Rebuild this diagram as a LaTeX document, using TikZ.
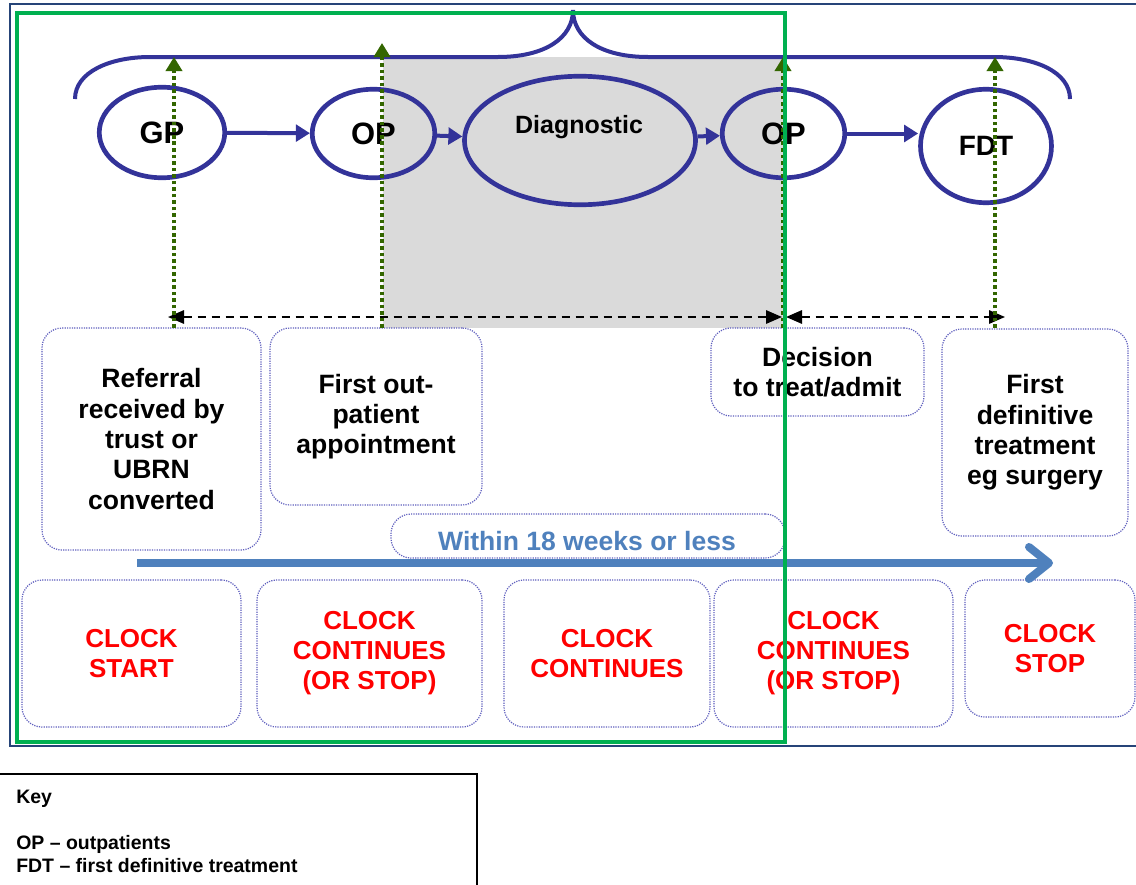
\documentclass[tikz,border=0pt]{standalone}
\usepackage{fontspec}
\setmainfont{Liberation Sans}
\usetikzlibrary{arrows.meta,shapes.geometric}

\definecolor{framenavy}{RGB}{38,68,120}
\definecolor{framegreen}{RGB}{0,176,80}
\definecolor{stagecol}{RGB}{51,51,153}
\definecolor{periodgray}{RGB}{218,218,218}
\definecolor{markgreen}{RGB}{51,102,0}
\definecolor{boxline}{RGB}{95,95,190}
\definecolor{weekblue}{RGB}{79,129,189}
\definecolor{clockred}{RGB}{255,0,0}

\begin{document}
\begin{tikzpicture}[x=0.75pt,y=-0.75pt,
  stage/.style={ellipse, draw=stagecol, line width=3.5pt, inner sep=0pt,
    font=\fontsize{23.2}{26}\selectfont\bfseries},
  flow/.style={stagecol, line width=3pt, -{Triangle[length=10.5pt,width=12.5pt]}},
  note/.style={draw=boxline, line width=0.9pt, dash pattern=on 0.9pt off 0.9pt,
    rounded corners=15pt, inner sep=0pt, align=center,
    font=\fontsize{19.9}{22.7}\selectfont\bfseries},
  clock/.style={note, text=clockred, font=\fontsize{19.5}{22.5}\selectfont\bfseries},
  span/.style={black, line width=1.5pt, dash pattern=on 6.5pt off 4pt,
    {Triangle[length=12pt,width=10pt]}-{Triangle[length=12pt,width=10pt]}},
  milestone/.style={markgreen, line width=2.7pt, dash pattern=on 2.7pt off 2.2pt,
    -{Triangle[length=10.5pt,width=12pt]}},
  keytext/.style={anchor=base west, inner sep=0pt, font=\fontsize{14.6}{17}\selectfont\bfseries}]

\useasboundingbox (0,0) rectangle (1136,885);
\clip (0,0) rectangle (1136,885);
\fill[white] (0,0) rectangle (1136,885);

% shaded diagnostic period
\fill[periodgray] (383,57) rectangle (783,328);

% outer frame
\draw[framenavy, line width=1.5pt] (10,4) rectangle (1150,746);

% brace over the pathway
\draw[stagecol, line width=3pt]
  (75,99) .. controls (75,72) and (110,57) .. (150,57) -- (498,57)
  .. controls (545,57) and (573,38) .. (573,10)
  .. controls (573,38) and (601,57) .. (648,57) -- (994,57)
  .. controls (1035,57) and (1070,72) .. (1070,99);

% pathway stages
\node[stage, minimum width=94.1pt, minimum height=67.9pt] (gp) at (162,132.5) {GP};
\node[stage, minimum width=91.9pt, minimum height=66.4pt] (op1) at (373.5,133.5) {OP};
\node[stage, minimum width=173.25pt, minimum height=96.4pt] (diag) at (580,140.5) {};
\node[anchor=base, inner sep=0pt, font=\fontsize{18.75}{22}\selectfont\bfseries] (diaglabel) at (579,133) {Diagnostic};
\node[stage, minimum width=91.9pt, minimum height=66.4pt] (op2) at (783.5,133.5) {OP};
\node[stage, minimum width=98.25pt, minimum height=85.1pt, font=\fontsize{21}{24}\selectfont\bfseries] (fdt) at (986,146) {FDT};

\draw[flow] (gp) -- (op1);
\draw[flow] (op1) -- (diag);
\draw[flow] (diag) -- (op2);
\draw[flow] (op2.east) -- (op2.east -| fdt.west);

% milestone boxes
\node[note, minimum width=164.25pt, minimum height=166.5pt] (referral) at (151.5,439)
  {Referral\\received by\\trust or\\UBRN\\converted};
\node[note, minimum width=159pt, minimum height=132.75pt] (firstop) at (376,416.5)
  {First out-\\patient\\appointment};
\node[note, minimum width=159.75pt, minimum height=66pt] (decision) at (817.5,372)
  {Decision\\to treat/admit};
\node[note, minimum width=139.5pt, minimum height=155.25pt] (treat) at (1035,432.5)
  {First\\definitive\\treatment\\eg surgery};

% 18 week span
\node[note, minimum width=295.5pt, minimum height=33pt] (within) at (588,536) {};
\node[inner sep=0pt, text=weekblue, font=\fontsize{19.9}{22.7}\selectfont\bfseries] (withintext) at (587,541) {Within 18 weeks or less};

% clock status boxes
\node[clock, minimum width=164.25pt, minimum height=110.25pt] (c1) at (131.5,653.5) {CLOCK\\START};
\node[clock, minimum width=168.75pt, minimum height=110.25pt] (c2) at (369.5,653.5) {CLOCK\\CONTINUES\\(OR STOP)};
\node[clock, minimum width=154.5pt, minimum height=110.25pt] (c3) at (607,653.5) {CLOCK\\CONTINUES};
\node[clock, minimum width=179.25pt, minimum height=110.25pt] (c4) at (833.5,653.5) {CLOCK\\CONTINUES\\(OR STOP)};
\node[clock, minimum width=127.5pt, minimum height=102.75pt] (c5) at (1050,648.5) {CLOCK\\STOP};

% intervals between milestones
\coordinate (s1) at (168,317);
\coordinate (s2) at (782,317);
\coordinate (s3) at (786,317);
\coordinate (s4) at (1005,317);
\draw[span] (s1) -- (s2);
\draw[span] (s3) -- (s4);

% milestones marked on the pathway
\coordinate (m1b) at (174,328);  \coordinate (m1t) at (174,57);
\coordinate (m2b) at (382,328);  \coordinate (m2t) at (382,43);
\coordinate (m3b) at (783,328);  \coordinate (m3t) at (783,57);
\coordinate (m4b) at (995,328);  \coordinate (m4t) at (995,57);
\draw[milestone] (m1b) -- (m1t);
\draw[milestone] (m2b) -- (m2t);
\draw[milestone] (m3b) -- (m3t);
\draw[milestone] (m4b) -- (m4t);

% overall time arrow
\coordinate (w1) at (137,563);
\coordinate (w2) at (1053,563);
\draw[weekblue, line width=6pt, -{Straight Barb[length=15pt,width=24pt,round]}] (w1) -- (w2);

% highlighted frame
\draw[framegreen, line width=3pt] (17,13) rectangle (785,742);

% key
\draw[black, line width=1.5pt] (-5,774) rectangle (477,900);
\node[keytext] (keyhead) at (16,803) {Key};
\node[keytext] (keyop) at (16,849) {OP – outpatients};
\node[keytext] (keyfdt) at (16,872) {FDT – first definitive treatment};

\end{tikzpicture}
\end{document}
